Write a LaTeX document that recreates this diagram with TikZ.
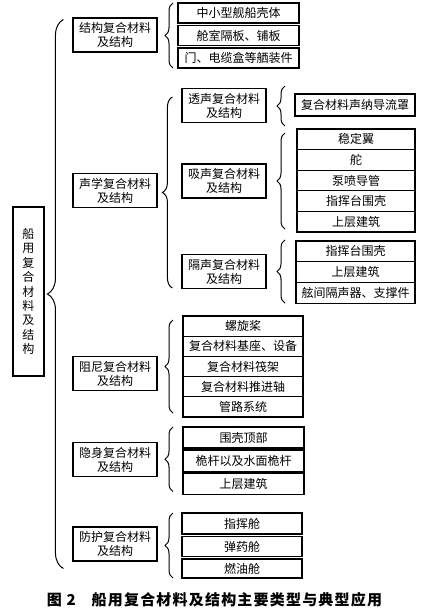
\documentclass[tikz,border=0pt]{standalone}
\usepackage{fontspec}
\usepackage{tikz}
\usetikzlibrary{arrows,positioning,decorations.pathreplacing}
\newfontfamily\cjk{Noto Sans CJK SC}

\begin{document}
\begin{tikzpicture}[x=1pt,y=-1pt,line width=1.1pt,
  font=\cjk\fontsize{12}{14}\selectfont,
  main node/.style={draw,minimum width=31pt,minimum height=169pt,inner sep=0pt,align=center,font=\cjk\fontsize{12}{14.4}\selectfont},
  type node/.style={draw,minimum width=84pt,minimum height=34pt,inner sep=0pt,align=center},
  leaf node/.style={draw,minimum width=#1,minimum height=20.6pt,inner sep=0pt,outer sep=0pt},
  leaf node/.default=118pt,
  curly/.style={decorate,decoration={brace,amplitude=#1},line width=1pt},
  curly/.default=8pt]
  \useasboundingbox (0,0) rectangle (428,611);

  \node[main node] (0) at (28.5,291.5) {船\\用\\复\\合\\材\\料\\及\\结\\构};

  \node[type node] (1) at (115,35)    {结构复合材料\\及结构};
  \node[type node] (2) at (115,190.5) {声学复合材料\\及结构};
  \node[type node] (3) at (115,373.5) {阻尼复合材料\\及结构};
  \node[type node] (4) at (115,459.5) {隐身复合材料\\及结构};
  \node[type node] (5) at (115,544)   {防护复合材料\\及结构};

  \node[type node] (21) at (224,105.5) {透声复合材料\\及结构};
  \node[type node] (22) at (224,181)   {吸声复合材料\\及结构};
  \node[type node] (23) at (224,271.5) {隔声复合材料\\及结构};

  \node[leaf node=121pt,minimum height=20pt] (11) at (238.5,13) {中小型舰船壳体};
  \node[leaf node=121pt,minimum height=20pt] (12) [below=2.5pt of 11] {舱室隔板、铺板};
  \node[leaf node=121pt,minimum height=20pt] (13) [below=2.5pt of 12] {门、电缆盒等舾装件};

  \node[leaf node=120pt,minimum height=22pt] (31) at (355,105) {复合材料声纳导流罩};

  \node[leaf node] (41) at (356,139.3) {稳定翼};
  \node[leaf node] (42) [below=0pt of 41] {舵};
  \node[leaf node] (43) [below=0pt of 42] {泵喷导管};
  \node[leaf node] (44) [below=0pt of 43] {指挥台围壳};
  \node[leaf node] (45) [below=0pt of 44] {上层建筑};

  \node[leaf node=119pt,minimum height=20.7pt] (51) at (355.5,251.3) {指挥台围壳};
  \node[leaf node=119pt,minimum height=20.7pt] (52) [below=0pt of 51] {上层建筑};
  \node[leaf node=119pt,minimum height=20.7pt] (53) [below=0pt of 52] {舷间隔声器、支撑件};

  \node[leaf node=120pt,minimum height=20.2pt] (61) at (243,326.1) {螺旋桨};
  \node[leaf node=120pt,minimum height=20.2pt] (62) [below=0pt of 61] {复合材料基座、设备};
  \node[leaf node=120pt,minimum height=20.2pt] (63) [below=0pt of 62] {复合材料筏架};
  \node[leaf node=120pt,minimum height=20.2pt] (64) [below=0pt of 63] {复合材料推进轴};
  \node[leaf node=120pt,minimum height=20.2pt] (65) [below=0pt of 64] {管路系统};

  \node[leaf node=121pt,minimum height=21pt] (71) at (243.5,437.5) {围壳顶部};
  \node[leaf node=121pt,minimum height=21.5pt] (72) [below=2pt of 71] {桅杆以及水面桅杆};
  \node[leaf node=121pt,minimum height=21.5pt] (73) [below=1.5pt of 72] {上层建筑};

  \node[leaf node=120pt,minimum height=21pt] (81) at (242,523.5) {指挥舱};
  \node[leaf node=120pt,minimum height=20pt] (82) [below=2.5pt of 81] {弹药舱};
  \node[leaf node=120pt,minimum height=19pt] (83) [below=2.5pt of 82] {燃油舱};

  \draw[curly=16pt] ([shift={(-9pt,-7pt)}]5.south west) -- ([shift={(-9pt,-2pt)}]1.north west);
  \draw[curly] ([xshift=-5pt]13.south west) -- ([xshift=-5pt]11.north west);
  \draw[curly=10pt] ([shift={(-9pt,1pt)}]23.south west) -- ([shift={(-9pt,-9pt)}]21.north west);
  \draw[curly] ([shift={(-10pt,-10pt)}]31.south west) -- ([shift={(-10pt,8pt)}]31.north west);
  \draw[curly] ([shift={(-12pt,3pt)}]45.south west) -- ([shift={(-12pt,-4pt)}]41.north west);
  \draw[curly] ([shift={(-11pt,0pt)}]53.south west) -- ([shift={(-11pt,1pt)}]51.north west);
  \draw[curly] ([shift={(-10pt,4pt)}]65.south west) -- ([shift={(-10pt,-4pt)}]61.north west);
  \draw[curly] ([shift={(-10pt,3pt)}]73.south west) -- ([shift={(-10pt,0pt)}]71.north west);
  \draw[curly] ([xshift=-9pt]83.south west) -- ([xshift=-9pt]81.north west);

  \node (c) at (214.5,600) {\bfseries\fontsize{15}{17}\selectfont\addfontfeature{LetterSpace=8}图 2\hspace{16pt}船用复合材料及结构主要类型与典型应用};
\end{tikzpicture}
\end{document}
